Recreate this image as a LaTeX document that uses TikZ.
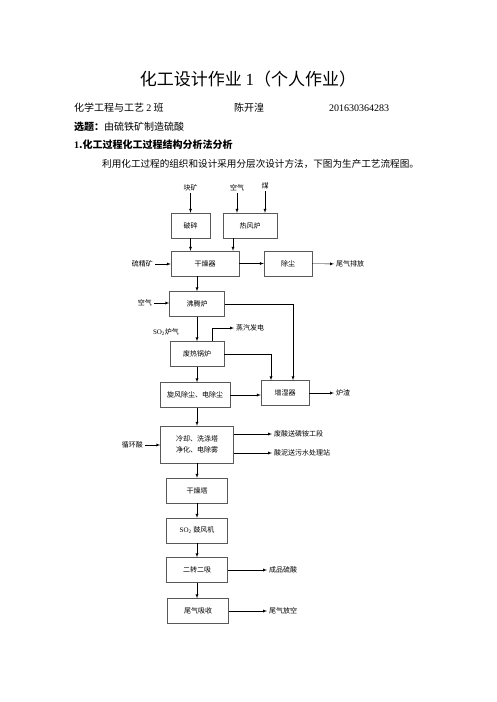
\documentclass[tikz,border=0pt]{standalone}
\usepackage{fontspec}
\setmainfont{Noto Sans CJK SC}
\newfontfamily\lat{Liberation Serif}
\usetikzlibrary{positioning}

\begin{document}
\begin{tikzpicture}[x=1pt,y=-1pt,>=latex,
    box/.style={draw=black!65,minimum height=25pt,inner sep=1pt,font=\fontsize{7}{8}\selectfont},
    lbl/.style={inner sep=2pt,font=\fontsize{7}{8}\selectfont},
    txt/.style={anchor=west,inner sep=0pt,font=\fontsize{10}{12}\selectfont}]
  \useasboundingbox[fill=white] (0,0) rectangle (496,702);

  %% header text
  \node[inner sep=0pt,font=\fontsize{17}{20}\selectfont] (title) at (248,79) {化工设计作业 {\lat 1}（个人作业）};
  \node[txt] (banji) at (74,108) {化学工程与工艺 {\lat 2} 班};
  \node[txt] (name) at (234,108) {陈开湟};
  \node[txt] (xuehao) at (329,108) {\lat 201630364283};
  \node[txt] (xuanti) at (74,127) {\textbf{选题：}由硫铁矿制造硫酸};
  \node[txt] (sec) at (74,145) {\textbf{{\lat 1}.化工过程化工过程结构分析法分析}};
  \node[txt,font=\fontsize{9.6}{12}\selectfont] (intro) at (102,164) {利用化工过程的组织和设计采用分层次设计方法，下图为生产工艺流程图。};

  %% process boxes
  \node[box,minimum width=39pt] (posui) at (190.5,225.5) {破碎};
  \node[box,minimum width=54pt] (rfl) at (250,225.5) {热风炉};
  \node[box,minimum width=68pt] (gzq) at (205,263.5) {干燥器};
  \node[box,minimum width=48pt] (chuchen) at (288,263.5) {除尘};
  \node[box,minimum width=55pt] (ftl) at (197,304) {沸腾炉};
  \node[box,minimum width=54pt] (frgl) at (197,354) {废热锅炉};
  \node[box,minimum width=70pt] (xfcc) at (195,395) {旋风除尘、电除尘};
  \node[box,minimum width=48pt] (zsq) at (285,393) {增湿器};
  \node[box,minimum width=73pt,minimum height=37pt,align=center] (lqxd) at (197,444.5) {冷却、洗涤塔\\[3pt]净化、电除雾};
  \node[box,minimum width=61pt] (gzt) at (197,490.5) {干燥塔};
  \node[box,minimum width=61pt] (gfj) at (197,530.5) {{\lat SO\textsubscript{2}} 鼓风机};
  \node[box,minimum width=61pt] (ezex) at (197,570) {二转二吸};
  \node[box,minimum width=61pt] (wqxs) at (198,611) {尾气吸收};

  %% stream labels
  \node[lbl] (kuaikuang) at (190.5,188) {块矿};
  \node[lbl] (kongqi1) at (237,188) {空气};
  \node[lbl] (mei) at (265,186) {煤};
  \node[lbl,anchor=east] (ljk) at (155,264) {硫精矿};
  \node[lbl,anchor=west] (wqpf) at (334,264) {尾气排放};
  \node[lbl,anchor=east] (kongqi2) at (154,303) {空气};
  \node[lbl] (so2) at (166,332) {{\lat SO\textsubscript{2}}炉气};
  \node[lbl,anchor=west] (zqfd) at (234,328) {蒸汽发电};
  \node[lbl,anchor=west] (luzha) at (334,393) {炉渣};
  \node[lbl,anchor=east] (xhs) at (145,445) {循环酸};
  \node[lbl,anchor=west] (fs) at (272,434) {废酸送磷铵工段};
  \node[lbl,anchor=west] (sn) at (272,453) {酸泥送污水处理站};
  \node[lbl,anchor=west] (cpls) at (267,570) {成品硫酸};
  \node[lbl,anchor=west] (wqfk) at (267,611) {尾气放空};

  %% streams
  \draw[->] (kuaikuang) -- (posui);
  \draw[->] (kongqi1) -- (kongqi1 |- rfl.north);
  \draw[->] (mei) -- (mei |- rfl.north);
  \draw[->] (posui) -- (posui |- gzq.north);
  \draw[->] ([xshift=-17pt]rfl.south) -- ([xshift=-17pt]rfl.south |- gzq.north);
  \draw[->] (ljk) -- (ljk -| gzq.west);
  \draw[->] (gzq) -- (chuchen);
  \draw[->] (chuchen) -- (wqpf);
  \draw[->] (ftl |- gzq.south) -- (ftl);
  \draw[->] (kongqi2) -- (kongqi2 -| ftl.west);
  \draw[->] (ftl.east) -| ([xshift=8pt]zsq.north);
  \draw[->] (ftl) -- (frgl);
  \draw[->] ([xshift=15pt]frgl.north) |- (zqfd);
  \draw[->] (frgl.east) -| ([xshift=-14pt]zsq.north);
  \draw[->] (frgl) -- (frgl |- xfcc.north);
  \draw[->] (xfcc) -- (xfcc -| zsq.west);
  \draw[->] (zsq) -- (luzha);
  \draw[->] (lqxd |- xfcc.south) -- (lqxd);
  \draw[->] (xhs) -- (xhs -| lqxd.west);
  \draw[->] (lqxd.east |- fs) -- (fs);
  \draw[->] (lqxd.east |- sn) -- (sn);
  \draw[->] (lqxd) -- (gzt);
  \draw[->] (gzt) -- (gfj);
  \draw[->] (gfj) -- (ezex);
  \draw[->] (ezex) -- (ezex |- wqxs.north);
  \draw[->] (ezex) -- (cpls);
  \draw[->] (wqxs) -- (wqfk);
\end{tikzpicture}
\end{document}
